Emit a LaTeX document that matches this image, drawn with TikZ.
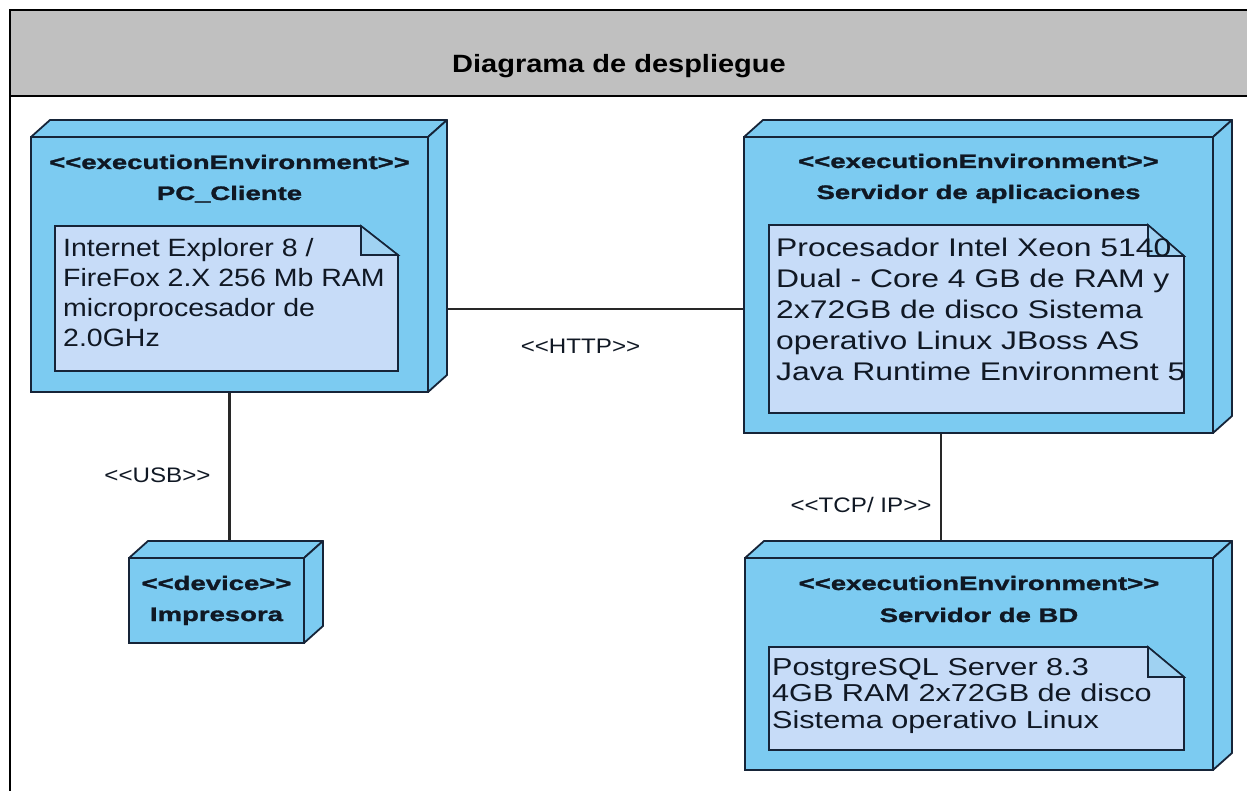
\documentclass[tikz,border=0pt]{standalone}
\usepackage{fontspec}
\setmainfont{Liberation Sans}
\newfontfamily\diagtitlefont[FakeStretch=1.16]{Liberation Sans}
\newfontfamily\stereofont[FakeStretch=1.41,FakeBold=1.5]{Liberation Sans}
\newfontfamily\pcnotefont[FakeStretch=1.14]{Liberation Sans}
\newfontfamily\notefont[FakeStretch=1.25]{Liberation Sans}
\newfontfamily\linkfont[FakeStretch=1.15]{Liberation Sans}

\definecolor{boxfill}{RGB}{124,203,241}
\definecolor{boxline}{RGB}{22,36,56}
\definecolor{notefill}{RGB}{199,220,248}
\definecolor{foldfill}{RGB}{160,210,242}
\definecolor{headgray}{RGB}{192,192,192}
\definecolor{txtdark}{RGB}{16,24,36}
\definecolor{linkline}{RGB}{40,40,40}

\pgfdeclarelayer{bg}
\pgfsetlayers{bg,main}

% depth faces (top and right side) of a deployment node
\newcommand\boxdepth[1]{%
  \path[boxface] (#1.north west) -- ++(19,-17) -- ([shift={(19,-17)}]#1.north east) -- (#1.north east) -- cycle;
  \path[boxface] (#1.north east) -- ++(19,-17) -- ([shift={(19,-17)}]#1.south east) -- (#1.south east) -- cycle;}

% note outline with a folded corner: #1 name, #2 fold width, #3 fold height
\newcommand\notefolded[3]{%
  \path[notebody] (#1.north west) -- ([xshift=-#2pt]#1.north east) -- ([yshift=-#3pt]#1.north east)
    -- (#1.south east) -- (#1.south west) -- cycle;
  \path[notefold] ([xshift=-#2pt]#1.north east) -- ([xshift=-#2pt,yshift=-#3pt]#1.north east)
    -- ([yshift=-#3pt]#1.north east) -- cycle;}

\tikzset{
  boxfront/.style={draw=boxline, fill=boxfill, line width=1.8pt, inner sep=0pt, outer sep=0pt},
  boxface/.style={draw=boxline, fill=boxfill, line width=1.8pt, line join=round},
  notearea/.style={inner sep=0pt, outer sep=0pt},
  notebody/.style={draw=boxline, fill=notefill, line width=1.6pt},
  notefold/.style={draw=boxline, fill=foldfill, line width=1.6pt},
  stereo/.style={font=\stereofont\bfseries\fontsize{19.5}{22}\selectfont, text=txtdark, anchor=base, inner sep=0pt},
  noteline/.style={font=\notefont\fontsize{#1}{#1}\selectfont, text=txtdark, anchor=base west, inner sep=0pt},
  pcnoteline/.style={font=\pcnotefont\fontsize{25}{25}\selectfont, text=txtdark, anchor=base west, inner sep=0pt},
  link/.style={draw=linkline, line width=2.2pt},
  linklabel/.style={font=\linkfont\fontsize{21}{24}\selectfont, text=txtdark, anchor=base, inner sep=0pt},
}

\begin{document}
\begin{tikzpicture}[x=1pt, y=-1pt]
\useasboundingbox (0,0) rectangle (1247,791);

% frame with title bar
\fill[headgray] (10,10) rectangle (1262,96);
\draw[line width=2pt] (10,820) -- (10,10) -- (1262,10);
\draw[line width=2.5pt] (10,96) -- (1262,96);
\node[font=\diagtitlefont\bfseries\fontsize{25}{28}\selectfont, anchor=base, inner sep=0pt] (title) at (619,73) {Diagrama de despliegue};

% deployment nodes (front faces)
\node[boxfront, minimum width=397, minimum height=255] (pc) at (229.5,264.5) {};
\boxdepth{pc}
\node[boxfront, minimum width=469, minimum height=296] (srv) at (978.5,285) {};
\boxdepth{srv}
\node[boxfront, minimum width=175, minimum height=85] (imp) at (216.5,600.5) {};
\boxdepth{imp}
\node[boxfront, minimum width=468, minimum height=212] (bd) at (979,664) {};
\boxdepth{bd}

% headers
\node[stereo] (pcst) at (229.5,169) {<<executionEnvironment>>};
\node[stereo] (pcname) at (229.5,200) {PC\_Cliente};
\node[stereo] (srvst) at (978.5,168) {<<executionEnvironment>>};
\node[stereo] (srvname) at (978.5,199) {Servidor de aplicaciones};
\node[stereo] (impst) at (216.5,590) {<<device>>};
\node[stereo] (impname) at (216.5,621) {Impresora};
\node[stereo] (bdst) at (979,590) {<<executionEnvironment>>};
\node[stereo] (bdname) at (979,622) {Servidor de BD};

% notes
\node[notearea, minimum width=343, minimum height=145] (pcnote) at (226.5,298.5) {};
\notefolded{pcnote}{37}{29}
\node[notearea, minimum width=415, minimum height=188] (srvnote) at (976.5,319) {};
\notefolded{srvnote}{36}{31}
\node[notearea, minimum width=415, minimum height=103] (bdnote) at (976.5,698.5) {};
\notefolded{bdnote}{36}{30}

\foreach \ln [count=\i from 0] in {{Internet Explorer 8 /}, {FireFox 2.X 256 Mb RAM}, {microprocesador de}, {2.0GHz}}
  \node[pcnoteline] (pctxt\i) at (63,257+30*\i) {\ln};
\foreach \ln [count=\i from 0] in {{Procesador Intel Xeon 5140}, {Dual - Core 4 GB de RAM y}, {2x72GB de disco Sistema}, {operativo Linux JBoss AS}, {Java Runtime Environment 5}}
  \node[noteline=25.5] (srvtxt\i) at (776,257+30.75*\i) {\ln};
\foreach \ln [count=\i from 0] in {{PostgreSQL Server 8.3}, {4GB RAM 2x72GB de disco}, {Sistema operativo Linux}}
  \node[noteline=24.5] (bdtxt\i) at (772,675+26.5*\i) {\ln};

% page background and communication paths, kept behind the nodes
\coordinate (httpy) at (600,309);
\coordinate (tcpx) at (941,500);
\begin{pgfonlayer}{bg}
  \fill[white] (0,0) rectangle (1247,791);
  \draw[link] (pc.east |- httpy) -- (srv.west |- httpy);
  \draw[link] (pc.south) -- (pc.south |- imp.north);
  \draw[link] (srv.south -| tcpx) -- (bd.north -| tcpx);
\end{pgfonlayer}

\node[linklabel] (http) at (580.5,353) {<<HTTP>>};
\node[linklabel] (usb) at (157.5,482) {<<USB>>};
\node[linklabel] (tcp) at (861,512) {<<TCP/ IP>>};
\end{tikzpicture}
\end{document}
